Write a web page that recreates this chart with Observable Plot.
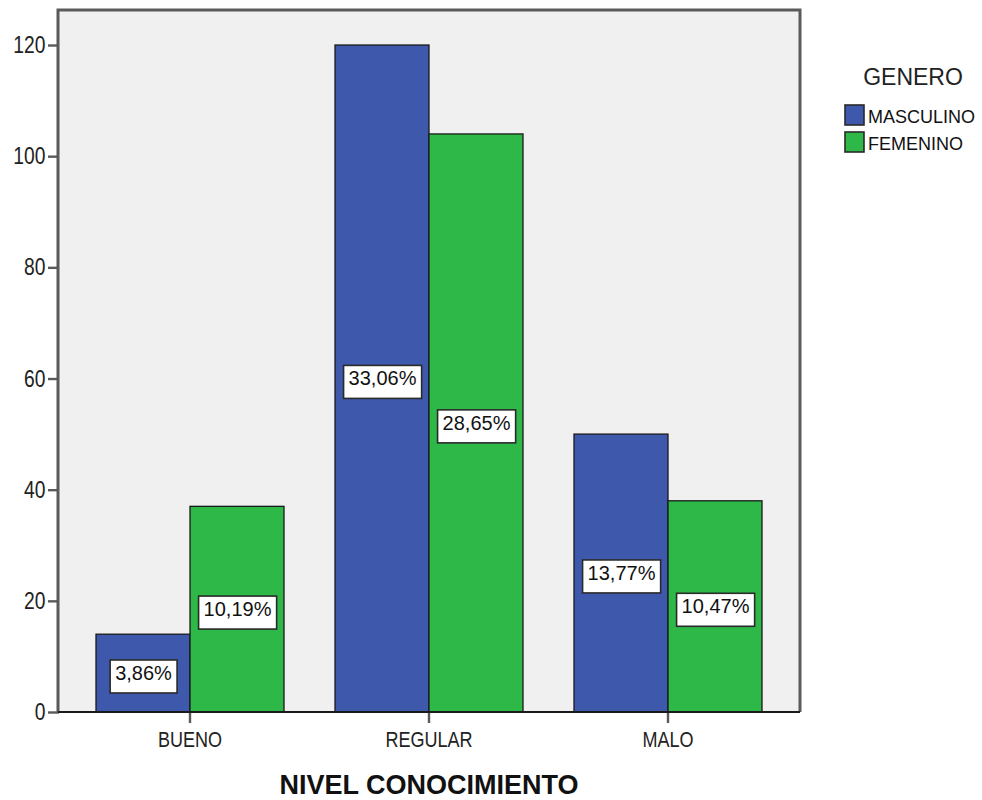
<!DOCTYPE html>
<html><head><meta charset="utf-8">
<script src="https://cdn.jsdelivr.net/npm/d3@7"></script>
<script src="https://cdn.jsdelivr.net/npm/@observablehq/plot@0.6"></script>
<style>
body{margin:0;background:#fff;}
#wrap{position:relative;width:982px;height:800px;}
#legend{position:absolute;left:0;top:0;pointer-events:none;}
</style></head><body><div id="wrap"></div>
<script>
const categories = ["BUENO", "REGULAR", "MALO"];
const genders = ["MASCULINO", "FEMENINO"];
const masculino = [14, 120, 50];
const femenino = [37, 104, 38];
const pctMasculino = ["3,86%", "33,06%", "13,77%"];
const pctFemenino = ["10,19%", "28,65%", "10,47%"];
const yTicks = [0, 20, 40, 60, 80, 100, 120];
const colors = ["#3E58AC", "#2EB848"];
const xTitle = "NIVEL CONOCIMIENTO";
const legendTitle = "GENERO";

const data = categories.flatMap((c, i) => [
  {nivel: c, genero: genders[0], n: masculino[i], pct: pctMasculino[i]},
  {nivel: c, genero: genders[1], n: femenino[i], pct: pctFemenino[i]}
]);

const W = 982, H = 800, mL = 58, mR = 182, mT = 10, mB = 88;
const regFont = "'Liberation Sans',Arial,sans-serif";
const narrow = 0.82;

const plot = Plot.plot({
  width: W, height: H,
  marginLeft: mL, marginRight: mR, marginTop: mT, marginBottom: mB,
  style: {background: "transparent", fontFamily: regFont, fontSize: "22px", color: "#222"},
  facet: {data, x: "nivel"},
  fx: {domain: categories, paddingInner: 0.2083, paddingOuter: 0.15, axis: "bottom", label: null, tickSize: 11, tickPadding: 8},
  x: {domain: genders, padding: 0, axis: null},
  y: {domain: [0, 126.3], ticks: yTicks, tickSize: 11, tickPadding: 3, label: null},
  color: {domain: genders, range: colors},
  marks: [
    Plot.barY(data, {x: "genero", y: "n", fill: "genero", stroke: "#1a1a1a", strokeWidth: 1.3}),
    Plot.text(data, {x: "genero", y: d => d.n / 2, text: "pct", fill: "#111", fontSize: 20, fontFamily: regFont})
  ]
});

const wrap = document.getElementById("wrap");
wrap.appendChild(plot);
const svgNode = plot.tagName.toLowerCase() === "svg" ? plot : plot.querySelector("svg");
const svg = d3.select(svgNode);
const svgRect = svgNode.getBoundingClientRect();

// plot-area background
svg.insert("rect", ":first-child")
  .attr("x", mL).attr("y", mT).attr("width", W - mL - mR).attr("height", H - mT - mB)
  .attr("fill", "#F0F0F0");

// axis styling
svg.selectAll('g[aria-label*="axis"] line, g[aria-label*="axis"] path')
  .attr("stroke", "#5a5a5a").attr("stroke-width", 2.4);
// condensed axis tick labels
svg.selectAll('g[aria-label*="axis"] text').each(function() {
  const x = +(this.getAttribute("x") || 0);
  if (x) this.setAttribute("x", x / narrow);
  const t = this.getAttribute("transform");
  this.setAttribute("transform", (t ? t + " " : "") + `scale(${narrow},1)`);
  this.setAttribute("fill", "#222");
});
svg.selectAll('g[aria-label^="y-axis"] text').style("font-size", "23.5px");

// move the y axis to the plot-area's left edge
{
  let right = -Infinity;
  svg.selectAll('g[aria-label^="y-axis"] line, g[aria-label^="y-axis"] path').each(function() {
    const r = this.getBoundingClientRect();
    right = Math.max(right, r.right - svgRect.left);
  });
  if (isFinite(right)) {
    const shift = mL - right + 1;
    svg.selectAll('g[aria-label^="y-axis"]').each(function() {
      const t = this.getAttribute("transform");
      this.setAttribute("transform", `translate(${shift},0)` + (t ? " " + t : ""));
    });
  }
}

svg.append("path")
  .attr("d", `M${mL},${H - mB}V${mT}H${W - mR}V${H - mB}`)
  .attr("fill", "none").attr("stroke", "#5a5a5a").attr("stroke-width", 3);
svg.append("line")
  .attr("x1", mL).attr("x2", W - mR).attr("y1", H - mB).attr("y2", H - mB)
  .attr("stroke", "#1a1a1a").attr("stroke-width", 1.8);

// white boxes behind the percentage labels
svg.selectAll('g[aria-label="text"] text').each(function() {
  const b = this.getBBox();
  d3.select(this.parentNode).insert("rect", () => this)
    .attr("transform", this.getAttribute("transform"))
    .attr("x", b.x - 5).attr("y", b.y - 2).attr("width", b.width + 10).attr("height", b.height + 11)
    .attr("fill", "#fff").attr("stroke", "#2a2a2a").attr("stroke-width", 1.6);
});

// x axis title
svg.append("text")
  .attr("x", (mL + W - mR) / 2).attr("y", 794)
  .attr("text-anchor", "middle")
  .style("font-family", regFont).style("font-weight", "bold").style("font-size", "27px")
  .attr("fill", "#111").text(xTitle);

// legend
const color = plot.scale("color");
const lg = d3.select(wrap).append("svg").attr("id", "legend").attr("width", W).attr("height", 200);
lg.append("text").attr("x", 913).attr("y", 85).attr("text-anchor", "middle")
  .style("font-family", regFont).style("font-size", "23px").attr("fill", "#222").text(legendTitle);
color.domain.forEach((g, i) => {
  lg.append("rect").attr("x", 845).attr("y", 105 + i * 27).attr("width", 19).attr("height", 20)
    .attr("fill", color.range[i]).attr("stroke", "#2a2a2a").attr("stroke-width", 1.6);
  lg.append("text").attr("x", 868).attr("y", 123 + i * 27)
    .style("font-family", regFont).style("font-size", "18px").attr("fill", "#111").text(g);
});
</script></body></html>
